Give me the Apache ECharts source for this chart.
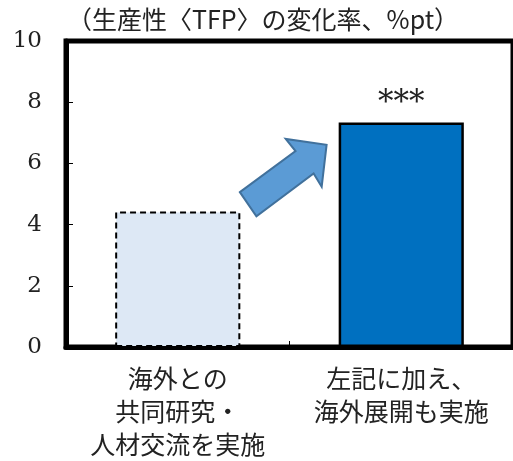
<!DOCTYPE html>
<html>
<head>
<meta charset="utf-8">
<script src="https://cdn.jsdelivr.net/npm/echarts@6/dist/echarts.min.js"></script>
<style>
  html, body { margin: 0; padding: 0; background: #fff; }
  #main { width: 513px; height: 461px; }
</style>
</head>
<body>
<div id="main"></div>
<script>
// categories and values
var categories = ['海外との\n共同研究・\n人材交流を実施', '左記に加え、\n海外展開も実施'];
var values = [4.43, 7.34];
var marks = ['', '***'];
var yTicks = { min: 0, max: 10, interval: 2 };
// block arrow outline: [offset from first category centre in bands, value]
var arrowShape = [
  [0.278, 5.06], [0.527, 6.40], [0.483, 6.80], [0.666, 6.61],
  [0.644, 5.24], [0.608, 5.67], [0.352, 4.27]
];

var jp = 'Noto Sans CJK JP';
var serif = 'DejaVu Serif';

var chart = echarts.init(document.getElementById('main'));
var option = {
  animation: false,
  title: {
    text: '（生産性〈TFP〉の変化率、%pt）',
    left: 62, top: 2,
    textStyle: { fontFamily: jp, fontSize: 25, fontWeight: 'normal', color: '#222' }
  },
  grid: {
    left: 66, right: -9, top: 41, bottom: 110,
    show: true, borderWidth: 5, borderColor: '#000', backgroundColor: 'transparent'
  },
  xAxis: {
    type: 'category',
    data: categories,
    axisLine: { show: true, lineStyle: { color: '#000', width: 5 } },
    axisTick: { show: true, inside: true, length: 6, lineStyle: { color: '#000', width: 1 } },
    axisLabel: {
      interval: 0, hideOverlap: false,
      fontFamily: jp, fontSize: 25, color: '#222', lineHeight: 33, margin: 15
    }
  },
  yAxis: {
    type: 'value',
    min: yTicks.min, max: yTicks.max, interval: yTicks.interval,
    splitLine: { show: false },
    axisLine: { show: true, lineStyle: { color: '#000', width: 5 } },
    axisTick: { show: true, inside: true, length: 7, lineStyle: { color: '#000', width: 1 } },
    axisLabel: { fontFamily: serif, fontSize: 23, color: '#222', margin: 24 }
  },
  series: [
    {
      type: 'bar',
      barWidth: '56%',
      data: values.map(function (v, i) {
        var first = i === 0;
        return {
          value: v,
          itemStyle: first
            ? { color: '#DDE8F5', borderColor: '#000', borderWidth: 2, borderType: [6, 4] }
            : { color: '#0070C0', borderColor: '#000', borderWidth: 2.5 },
          label: {
            show: marks[i] !== '',
            position: 'top',
            distance: 3,
            formatter: marks[i],
            fontFamily: serif, fontSize: 31, color: '#222'
          }
        };
      })
    },
    {
      type: 'custom',
      data: [0],
      z: 5,
      renderItem: function (params, api) {
        var band = api.size([1, 0])[0];
        var x0 = api.coord([0, 0])[0];
        var pts = arrowShape.map(function (p) {
          return [x0 + p[0] * band, api.coord([0, p[1]])[1]];
        });
        return {
          type: 'polygon',
          shape: { points: pts },
          style: { fill: '#5B9BD5', stroke: '#41719C', lineWidth: 2 }
        };
      }
    }
  ]
};
chart.setOption(option);
</script>
</body>
</html>
